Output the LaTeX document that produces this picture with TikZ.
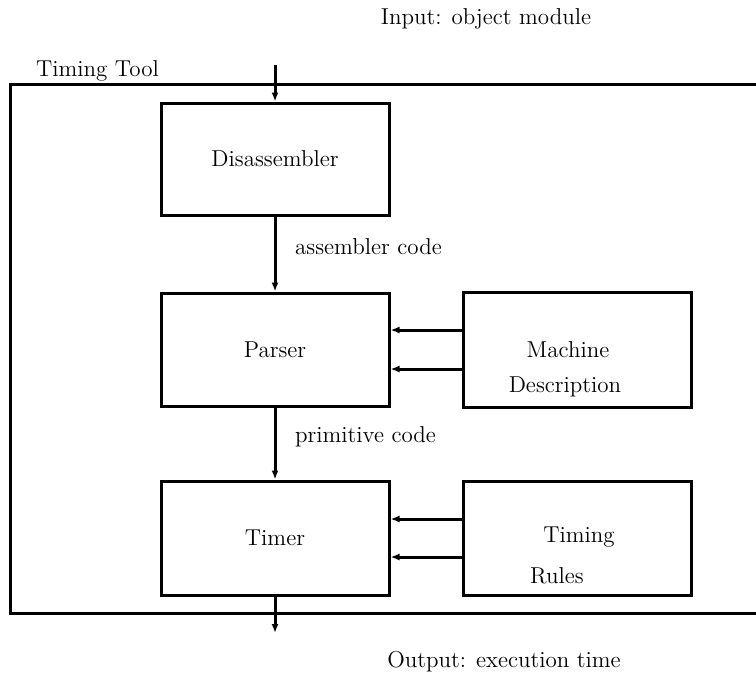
\documentclass[tikz,border=0pt]{standalone}
\usepackage{tikz}
\usetikzlibrary{arrows,arrows.meta,positioning}

\begin{document}
\begin{tikzpicture}[x=0.5pt, y=-0.5pt, >={Latex[length=4.5pt,width=3.5pt]}, line width=1.5pt, font=\fontsize{11.5}{14}\selectfont]
   \useasboundingbox (0,0) rectangle (756,675);
   % frame of the tool, open on the right
   \draw (756,84) -- (10,84) -- (10,613) -- (756,613);
   \node[anchor=west] (tool) at (28,71) {Timing Tool};
   \node (inp) at (486,19) {Input: object module};
   \node (outp) at (504,662) {Output: execution time};
   \coordinate (in) at (275,65);
   \coordinate (out) at (275,633);
   \begin{scope}[every node/.style={draw,rectangle,minimum width=114pt,inner sep=0pt}]
    \node (dis) [minimum height=56pt] at (275,159) {Disassembler};
    \node (par) [minimum height=56.5pt] at (275,349.5) {Parser};
    \node (tim) [minimum height=57pt] at (275,538) {Timer};
    \node (mach) [minimum height=57.5pt] at (577.5,349.5) {};
    \node (rules) [minimum height=57pt] at (577.5,538) {};
   \end{scope}
   \node (machtxt) at (568,350) {Machine};
   \node (desctxt) at (565,387) {Description};
   \node (timtxt) at (579,537) {Timing};
   \node (ruletxt) at (557,576) {Rules};
   \begin{scope}[->]
    \draw (in) -- (dis.north);
    \draw (dis) -- node[right=6pt,pos=0.4]{assembler code} (par);
    \draw (par) -- node[right=6pt,pos=0.4]{primitive code} (tim);
    \draw (tim.south) -- (out);
    \draw ([yshift=9.75pt]mach.west) -- ([yshift=9.75pt]par.east);
    \draw ([yshift=-9.75pt]mach.west) -- ([yshift=-9.75pt]par.east);
    \draw ([yshift=9.5pt]rules.west) -- ([yshift=9.5pt]tim.east);
    \draw ([yshift=-9.5pt]rules.west) -- ([yshift=-9.5pt]tim.east);
   \end{scope}
\end{tikzpicture}
\end{document}
